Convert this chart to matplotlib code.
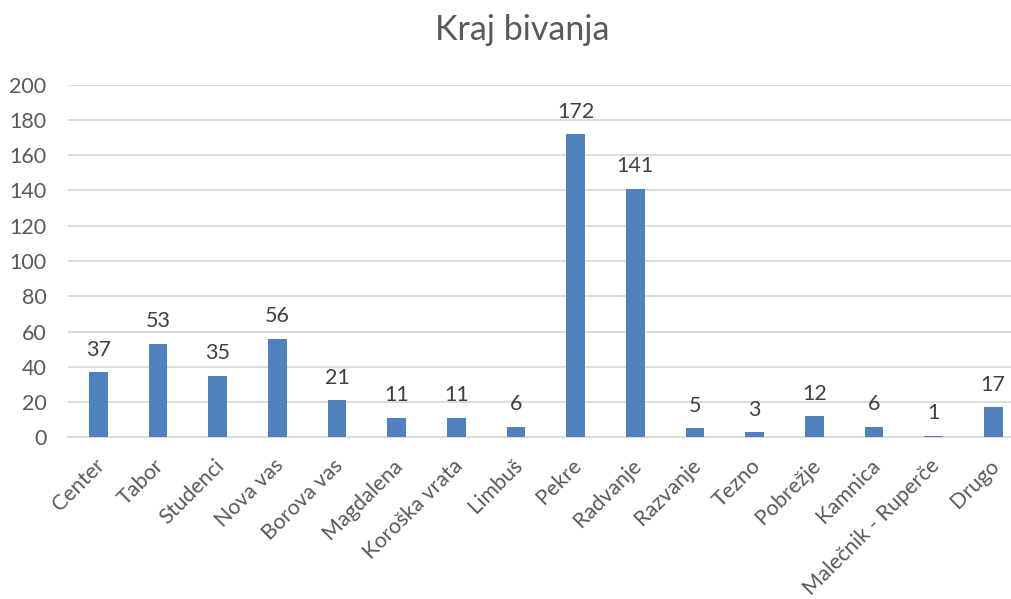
import matplotlib
matplotlib.use("Agg")
import matplotlib.pyplot as plt
from matplotlib.transforms import ScaledTranslation

categories = ["Center", "Tabor", "Studenci", "Nova vas", "Borova vas", "Magdalena",
              "Koroška vrata", "Limbuš", "Pekre", "Radvanje", "Razvanje", "Tezno",
              "Pobrežje", "Kamnica", "Malečnik - Ruperče", "Drugo"]
values = [37, 53, 35, 56, 21, 11, 11, 6, 172, 141, 5, 3, 12, 6, 1, 17]
yticks = [0, 20, 40, 60, 80, 100, 120, 140, 160, 180, 200]
title = "Kraj bivanja"

plt.rcParams['font.family'] = ['Lato', 'DejaVu Sans']

W, H = 1012, 599
fig = plt.figure(figsize=(W / 100, H / 100), dpi=100)
left, right = 68.5 / W, 1023 / W
bottom, top = (H - 437.3) / H, (H - 84.7) / H
ax = fig.add_axes([left, bottom, right - left, top - bottom])

x = list(range(len(categories)))
bars = ax.bar(x, values, width=0.313, color="#4F81BD", zorder=3)
ax.set_xlim(-0.5, len(categories) - 0.5)
ax.set_ylim(0, 200)
ax.set_yticks(yticks)
ax.yaxis.grid(True, color="#D9D9D9", linewidth=1.3, zorder=0)
for s in ["top", "right", "left"]:
    ax.spines[s].set_visible(False)
ax.spines["bottom"].set_color("#D9D9D9")
ax.spines["bottom"].set_linewidth(1.3)
ax.tick_params(axis="both", length=0, colors="#595959", labelsize=15.5)
ax.tick_params(axis="y", pad=16)
ax.set_xticks(x)
ax.set_xticklabels(categories, rotation=45, ha="right", rotation_mode="anchor")
ax.tick_params(axis="x", pad=13)
off = ScaledTranslation(-4 / 100, 0, fig.dpi_scale_trans)
for lbl in ax.get_xticklabels():
    lbl.set_transform(lbl.get_transform() + off)

for xi, v in zip(x, values):
    ax.annotate(str(v), (xi, v), xytext=(0, 9), textcoords="offset points",
                ha="center", va="bottom", fontsize=15.5, color="#404040")

fig.text(522 / W, 1 - 30 / H, title, ha="center", va="center", fontsize=24.5, color="#595959")

fig.savefig("out.png", dpi=100)
